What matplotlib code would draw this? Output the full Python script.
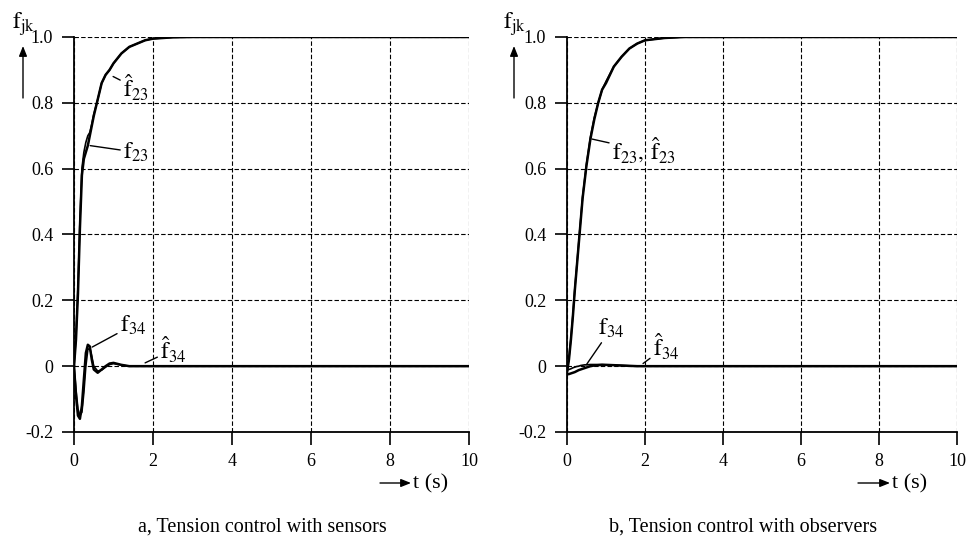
import matplotlib
matplotlib.use("Agg")
import matplotlib.pyplot as plt
from matplotlib.patches import FancyArrowPatch

plt.rcParams["font.family"] = ["Liberation Serif", "DejaVu Serif"]
plt.rcParams["mathtext.fontset"] = "stix"

# time grid (s)
t = [0, 0.05, 0.1, 0.15, 0.2, 0.25, 0.3, 0.35, 0.4, 0.45, 0.5, 0.6, 0.7, 0.8,
     0.9, 1.0, 1.2, 1.4, 1.6, 1.8, 2.0, 2.5, 3.0, 10.0]

# a) tension control with sensors
f23_a = [0, 0.08, 0.22, 0.42, 0.58, 0.63, 0.65, 0.67, 0.70, 0.73, 0.76, 0.81, 0.86,
         0.885, 0.90, 0.92, 0.95, 0.97, 0.98, 0.99, 0.995, 0.999, 1.0, 1.0]
f23h_a = [0, 0.09, 0.24, 0.44, 0.60, 0.65, 0.68, 0.70, 0.71, 0.735, 0.765, 0.81, 0.86,
          0.885, 0.90, 0.92, 0.95, 0.97, 0.98, 0.99, 0.995, 0.999, 1.0, 1.0]
f34_a = [0, -0.09, -0.15, -0.16, -0.12, -0.04, 0.04, 0.065, 0.06, 0.02, -0.01, -0.02,
         -0.01, 0.0, 0.008, 0.01, 0.004, 0.0, 0, 0, 0, 0, 0, 0]
f34h_a = [0, -0.07, -0.13, -0.15, -0.14, -0.08, 0.0, 0.05, 0.055, 0.03, 0.0, -0.015,
          -0.012, -0.003, 0.005, 0.008, 0.003, 0.0, 0, 0, 0, 0, 0, 0]

# b) tension control with observers
f23_b = [-0.02, 0.02, 0.08, 0.15, 0.23, 0.30, 0.37, 0.44, 0.51, 0.56, 0.61, 0.69, 0.75,
         0.80, 0.84, 0.86, 0.91, 0.94, 0.965, 0.98, 0.99, 0.997, 1.0, 1.0]
f23h_b = [-0.015, 0.025, 0.085, 0.155, 0.235, 0.305, 0.375, 0.445, 0.515, 0.565, 0.615,
          0.695, 0.755, 0.80, 0.84, 0.865, 0.91, 0.94, 0.965, 0.98, 0.99, 0.997, 1.0, 1.0]
f34_b = [-0.025, -0.024, -0.022, -0.02, -0.018, -0.015, -0.012, -0.01, -0.008, -0.006,
         -0.004, 0.0, 0.002, 0.003, 0.004, 0.004, 0.003, 0.002, 0.001, 0.0, 0, 0, 0, 0]
f34h_b = [-0.012, -0.01, -0.008, -0.005, -0.003, -0.001, 0.0, 0.002, 0.003, 0.004,
          0.004, 0.005, 0.005, 0.005, 0.005, 0.004, 0.003, 0.002, 0.001, 0.0, 0, 0, 0, 0]

xticks = [0, 2, 4, 6, 8, 10]
yticks = [-0.2, 0, 0.2, 0.4, 0.6, 0.8, 1.0]
yticklabels = ["-0.2", "0", "0.2", "0.4", "0.6", "0.8", "1.0"]

W, H = 973, 544
fig = plt.figure(figsize=(W / 100, H / 100), dpi=100)


def px(x, y):
    return x / W, 1 - y / H


def setup(ax):
    ax.set_xlim(0, 10)
    ax.set_ylim(-0.2, 1.0)
    ax.set_xticks(xticks)
    ax.set_yticks(yticks)
    ax.set_yticklabels(yticklabels)
    ax.grid(True, color="black", linestyle=(0, (4, 2)), linewidth=0.8)
    for s in ["top", "right"]:
        ax.spines[s].set_visible(False)
    for s in ["left", "bottom"]:
        ax.spines[s].set_linewidth(1.3)
    ax.tick_params(direction="out", length=9, width=1.2, labelsize=13, pad=6)


ax1 = fig.add_axes([74 / W, 1 - 432 / H, (469 - 74) / W, (432 - 37) / H])
ax2 = fig.add_axes([567 / W, 1 - 432 / H, (957 - 567) / W, (432 - 37) / H])
setup(ax1)
setup(ax2)

lw = 1.8
ax1.plot(t, f23_a, color="black", lw=lw)
ax1.plot(t, f23h_a, color="black", lw=1.2)
ax1.plot(t, f34_a, color="black", lw=lw)
ax1.plot(t, f34h_a, color="black", lw=1.2)

ax2.plot(t, f23_b, color="black", lw=lw)
ax2.plot(t, f23h_b, color="black", lw=1.2)
ax2.plot(t, f34_b, color="black", lw=lw)
ax2.plot(t, f34h_b, color="black", lw=1.2)

lead = dict(arrowstyle="-", color="black", lw=1.0, shrinkA=0, shrinkB=0)
fs = 17

# leader labels, panel a
ax1.annotate(r"$\hat{\mathrm{f}}_{23}$", xy=(0.99, 0.88), xytext=(1.24, 0.845),
             fontsize=fs, ha="left", va="center", arrowprops=lead)
ax1.annotate(r"$\mathrm{f}_{23}$", xy=(0.41, 0.67), xytext=(1.24, 0.65),
             fontsize=fs, ha="left", va="center", arrowprops=lead)
ax1.annotate(r"$\mathrm{f}_{34}$", xy=(0.46, 0.058), xytext=(1.16, 0.125),
             fontsize=fs, ha="left", va="center", arrowprops=lead)
ax1.annotate(r"$\hat{\mathrm{f}}_{34}$", xy=(1.8, 0.01), xytext=(2.18, 0.05),
             fontsize=fs, ha="left", va="center", arrowprops=lead)

# leader labels, panel b
ax2.annotate(r"$\mathrm{f}_{23},\,\hat{\mathrm{f}}_{23}$", xy=(0.64, 0.69), xytext=(1.15, 0.655),
             fontsize=fs, ha="left", va="center", arrowprops=lead)
ax2.annotate(r"$\mathrm{f}_{34}$", xy=(0.5, 0.005), xytext=(0.8, 0.115),
             fontsize=fs, ha="left", va="center", arrowprops=lead)
ax2.annotate(r"$\hat{\mathrm{f}}_{34}$", xy=(1.95, 0.008), xytext=(2.2, 0.06),
             fontsize=fs, ha="left", va="center", arrowprops=lead)

# axis labels and arrows
for xl, xa, xs0, xs1, xt in [(12, 23, 380, 411, 413), (503, 514, 858, 890, 892)]:
    fig.text(*px(xl, 24), r"$\mathrm{f}_{\mathrm{jk}}$", fontsize=17, ha="left", va="center")
    fig.add_artist(FancyArrowPatch(px(xa, 98), px(xa, 46), transform=fig.transFigure,
                                   arrowstyle="-|>,head_length=0.5,head_width=0.2",
                                   mutation_scale=12, color="black", lw=1.0,
                                   shrinkA=0, shrinkB=0))
    fig.add_artist(FancyArrowPatch(px(xs0, 483), px(xs1, 483), transform=fig.transFigure,
                                   arrowstyle="-|>,head_length=0.5,head_width=0.2",
                                   mutation_scale=12, color="black", lw=1.0,
                                   shrinkA=0, shrinkB=0))
    fig.text(*px(xt, 484), "t (s)", fontsize=16, ha="left", va="center")

fig.text(*px(262, 532), "a, Tension control with sensors", fontsize=14.5,
         ha="center", va="baseline")
fig.text(*px(743, 532), "b, Tension control with observers", fontsize=14.5,
         ha="center", va="baseline")

fig.savefig("out.png", dpi=100)
